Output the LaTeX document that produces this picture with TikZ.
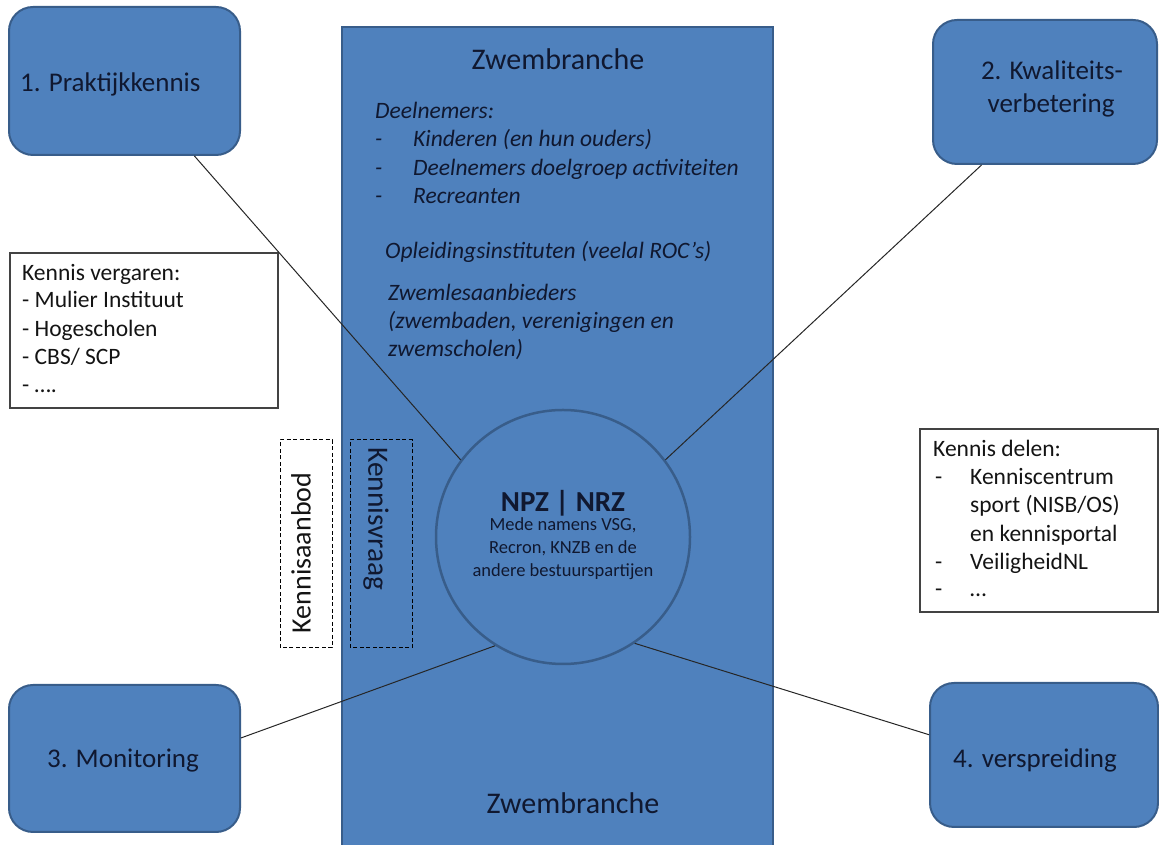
\documentclass[tikz,border=0pt]{standalone}
\usepackage{fontspec}
\setmainfont{Carlito}
\definecolor{fillb}{HTML}{4F81BD}
\definecolor{lineb}{HTML}{385D8A}
\definecolor{txt}{RGB}{16,24,48}
\definecolor{blk}{RGB}{20,20,20}
\begin{document}
\begin{tikzpicture}[x=1pt,y=1pt,
  bluebox/.style={draw=lineb, fill=fillb, line width=2pt, rounded corners=24pt, inner sep=0pt},
  boxlabel/.style={anchor=base west, inner sep=0pt, text=txt, font=\fontsize{27}{34}\selectfont},
  itlabel/.style={anchor=base west, inner sep=0pt, text=txt, font=\fontsize{23.5}{28}\selectfont\itshape},
  kenlabel/.style={anchor=base west, inner sep=0pt, text=blk, font=\fontsize{23.5}{28}\selectfont},
  titlelabel/.style={anchor=base, inner sep=0pt, text=txt, font=\fontsize{30}{34}\selectfont},
  whitebox/.style={draw=blk!80, fill=white, line width=1.2pt},
  dashbox/.style={draw=black, line width=1pt, dash pattern=on 4pt off 2.5pt},
  conn/.style={draw=black!85, line width=1pt}
]
\useasboundingbox (0,0) rectangle (1159,845);

% big rectangle
\fill[fillb] (342,-5) rectangle (773,818);
\draw[lineb, line width=2.5pt] (342,-5) -- (342,818) -- (773,818) -- (773,-5);

% titles
\node[titlelabel] (zt) at (558,775) {Zwembranche};
\node[titlelabel] (zb) at (573,31) {Zwembranche};

% italic list
\node[itlabel] (d0) at (375,726) {Deelnemers:};
\node[itlabel] (d1a) at (375,698) {-};
\node[itlabel] (d1) at (413,698) {Kinderen (en hun ouders)};
\node[itlabel] (d2a) at (375,669) {-};
\node[itlabel] (d2) at (413,669) {Deelnemers doelgroep activiteiten};
\node[itlabel] (d3a) at (375,641) {-};
\node[itlabel] (d3) at (413,641) {Recreanten};
\node[itlabel] (o1) at (385,586) {Opleidingsinstituten (veelal ROC’s)};
\node[itlabel] (z1) at (388,544) {Zwemlesaanbieders};
\node[itlabel] (z2) at (388,516) {(zwembaden, verenigingen en};
\node[itlabel] (z3) at (388,488) {zwemscholen)};

% corner boxes
\node[bluebox, minimum width=231pt, minimum height=148pt] (b1) at (124.5,764) {};
\node[bluebox, minimum width=224pt, minimum height=144pt] (b2) at (1045,753) {};
\node[bluebox, minimum width=231pt, minimum height=147pt] (b3) at (124.5,86.5) {};
\node[bluebox, minimum width=228pt, minimum height=144pt] (b4) at (1044,90) {};

\node[boxlabel] (t1) at (20,753) {1. Praktijkkennis};
\node[boxlabel, anchor=base] (t2a) at (1052,765) {2. Kwaliteits-};
\node[boxlabel, anchor=base] (t2b) at (1051,732) {verbetering};
\node[boxlabel, anchor=base] (t3) at (123,77) {3. Monitoring};
\node[boxlabel, anchor=base] (t4) at (1035,77) {4. verspreiding};

% Kennis vergaren
\draw[whitebox] (10,437) rectangle (278,592);
\node[kenlabel] (kv0) at (22,564) {Kennis vergaren:};
\node[kenlabel] (kv1) at (22,537) {- Mulier Instituut};
\node[kenlabel] (kv2) at (22,508) {- Hogescholen};
\node[kenlabel] (kv3) at (22,480) {- CBS/ SCP};
\node[kenlabel] (kv4) at (22,452) {- ….};

% Kennis delen
\draw[whitebox] (920,233) rectangle (1158,416);
\node[kenlabel] (kd0) at (933,388) {Kennis delen:};
\node[kenlabel] (kd1a) at (935,360) {-};
\node[kenlabel] (kd1) at (970,360) {Kenniscentrum};
\node[kenlabel] (kd1b) at (970,332) {sport (NISB/OS)};
\node[kenlabel] (kd1c) at (970,303) {en kennisportal};
\node[kenlabel] (kd2a) at (935,275) {-};
\node[kenlabel] (kd2) at (970,275) {VeiligheidNL};
\node[kenlabel] (kd3a) at (935,248) {-};
\node[kenlabel] (kd3) at (970,248) {…};

% dashed boxes
\draw[dashbox, fill=white] (280,197) rectangle (332,405);
\draw[dashbox] (350,197) rectangle (412,405);
\node[inner sep=0pt, rotate=90, text=blk, font=\fontsize{28}{34}\selectfont] (ka) at (301,292) {Kennisaanbod};
\node[inner sep=0pt, rotate=-90, text=txt, font=\fontsize{29.5}{34}\selectfont] (kq) at (376,326) {Kennisvraag};

% circle
\node[circle, draw=lineb, fill=fillb, line width=2.5pt, minimum size=254pt, inner sep=0pt] (c) at (563,308) {};
\node[anchor=base, inner sep=0pt, text=txt, font=\fontsize{29}{30}\selectfont\bfseries] (npz) at (563,333) {NPZ | NRZ};
\node[anchor=base, inner sep=0pt, text=txt, font=\fontsize{18.5}{22}\selectfont] (m1) at (563,314) {Mede namens VSG,};
\node[anchor=base, inner sep=0pt, text=txt, font=\fontsize{18.5}{22}\selectfont] (m2) at (563,291) {Recron, KNZB en de};
\node[anchor=base, inner sep=0pt, text=txt, font=\fontsize{18.5}{22}\selectfont] (m3) at (563,268) {andere bestuurspartijen};

% connectors
\draw[conn] (b1.-47.6) -- (c.143);
\draw[conn] (b2.-131.6) -- (c.37);
\draw[conn] (b3.10.5) -- (c.238.5);
\draw[conn] (b4.170.9) -- (c.304.7);
\end{tikzpicture}
\end{document}
